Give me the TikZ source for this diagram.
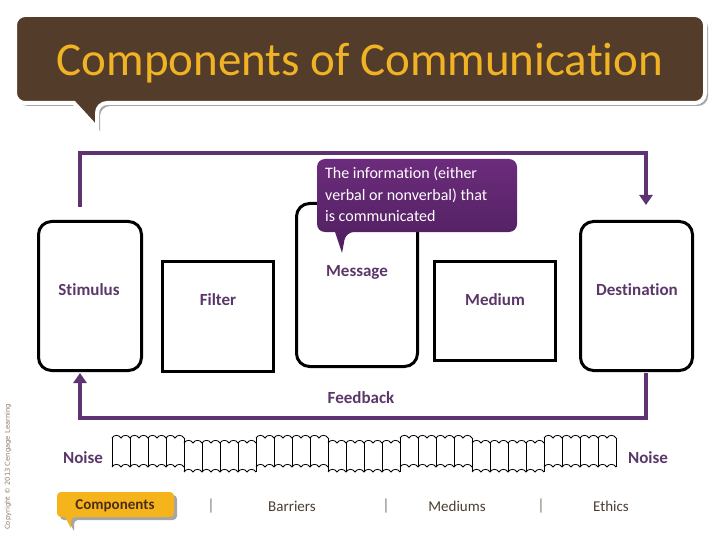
\documentclass[tikz,border=0pt]{standalone}
\usepackage{fontspec}
\setmainfont{Carlito}[Ligatures={NoCommon}]
\newfontfamily\cpyfont{DejaVu Sans}
\usetikzlibrary{arrows.meta,calc}
\definecolor{bannerbrown}{HTML}{533D2A}
\definecolor{titlegold}{HTML}{F0B323}
\definecolor{flowpurple}{HTML}{5F3372}
\definecolor{labpurple}{HTML}{5A3768}
\definecolor{calloutA}{HTML}{6C2C7C}
\definecolor{calloutB}{HTML}{4F1F5E}
\definecolor{compgold}{HTML}{F5B31C}
\definecolor{compbrown}{HTML}{4A2E18}
\definecolor{rowtext}{HTML}{4B3D30}
\definecolor{cpygray}{HTML}{8C7C68}
\tikzset{
  box/.style={draw=black, line width=3pt, inner sep=0pt},
  rbox/.style={box, rounded corners=13pt},
  lab/.style={text=labpurple, font=\fontsize{17}{20}\selectfont\bfseries},
  flow/.style={draw=flowpurple, line width=3.5pt, -{Triangle[width=13pt,length=10pt]}},
  noiseln/.style={draw=black, line width=0.8pt},
  rowlab/.style={text=rowtext, font=\fontsize{15}{18}\selectfont},
  sep/.style={text=rowtext!70, font=\fontsize{16}{18}\selectfont}
}
\begin{document}
\begin{tikzpicture}[x=1pt,y=-1pt]
\useasboundingbox (0,0) rectangle (720,540);
% title banner
\newcommand{\BannerShape}[1]{[rounded corners=10pt] ($(15,60)+#1$) -- ($(15,15)+#1$) -- ($(705,15)+#1$) -- ($(705,103)+#1$) -- ($(97,103)+#1$) [sharp corners] -- ($(97,128)+#1$) -- ($(74,103)+#1$) [rounded corners=10pt] -- ($(15,103)+#1$) -- cycle}
\fill[black!35] \BannerShape{(3,3)};
\filldraw[fill=bannerbrown, draw=white, line width=4pt] \BannerShape{(0,0)};
\node[text=titlegold, font=\fontsize{47}{50}\selectfont] (title) at (360,63) {Components of Communication};
% boxes
\node[rbox, minimum width=103pt, minimum height=149pt] (stim) at (90,296) {};
\node[box, minimum width=111pt, minimum height=110pt] (filter) at (218,316.5) {};
\node[rbox, minimum width=121pt, minimum height=163pt] (msg) at (357,285) {};
\node[box, minimum width=121pt, minimum height=99pt] (medium) at (495,311) {};
\node[rbox, minimum width=112pt, minimum height=149pt] (dest) at (636.5,296) {};
\node[lab] (stimlab) at (89,290) {Stimulus};
\node[lab] (filterlab) at (218,300) {Filter};
\node[lab] (msglab) at (357,272) {Message};
\node[lab] (mediumlab) at (495,300) {Medium};
\node[lab] (destlab) at (637,290) {Destination};
% callout
\shade[top color=calloutA, bottom color=calloutB] (342,253) -- (335,232) [rounded corners=8pt] -- (317,232) -- (317,159) -- (517,159) -- (517,232) -- (346,232) [sharp corners] -- cycle;
\node[anchor=north west, align=left, text=white, inner sep=0pt,
      font=\fontsize{16}{21.5}\selectfont] (calltext) at (325,167)
  {The information (either\\verbal or nonverbal) that\\is communicated};
% connectors
\draw[flow, shorten <=13pt, shorten >=15pt] ([xshift=-10pt]stim.north) -- ++(0,-67) -| ([xshift=9.5pt]dest.north);
\draw[flow, shorten <=1pt, shorten >=1pt] ([xshift=9.5pt]dest.south) -- ++(0,46) -| ([xshift=-10pt]stim.south);
\node[lab] (fblab) at (361,398) {Feedback};
% noise band
\foreach \g in {0,...,6} {
  \pgfmathsetmacro\xo{112+72*\g}
  \ifodd\g \def\tp{443}\else\def\tp{438}\fi
  \pgfmathsetmacro\bt{\tp+29}
  \draw[noiseln] (\xo,\tp) foreach \i in {1,...,8} { .. controls +(2,-3.5) and +(-2,-3.5) .. ++(9,0) };
  \draw[noiseln] (\xo,\bt) foreach \i in {1,...,8} { .. controls +(2,-3.5) and +(-2,-3.5) .. ++(9,0) };
  \foreach \k in {0,...,4} {
    \draw[noiseln] (\xo+18*\k,\tp) -- (\xo+18*\k,\bt);
  }
}
\node[lab] (noiseL) at (83,458) {Noise};
\node[lab] (noiseR) at (648,458) {Noise};
% bottom row
\newcommand{\CompShape}[1]{[rounded corners=4pt] ($(57,505)+#1$) -- ($(57,492)+#1$) -- ($(174,492)+#1$) -- ($(174,517)+#1$) -- ($(71,517)+#1$) [sharp corners] -- ($(71,528)+#1$) -- ($(65,517)+#1$) [rounded corners=4pt] -- ($(57,517)+#1$) -- cycle}
\fill[black!35] \CompShape{(3,3)};
\fill[compgold] \CompShape{(0,0)};
\node[text=compbrown, font=\fontsize{15}{18}\selectfont\bfseries] (comp) at (115,505.5) {Components};
\node[sep] (sep1) at (211,506) {|};
\node[rowlab] (barr) at (292,506) {Barriers};
\node[sep] (sep2) at (386,506) {|};
\node[rowlab] (medi) at (457,506) {Mediums};
\node[sep] (sep3) at (541,506) {|};
\node[rowlab] (eth) at (611,506) {Ethics};
% copyright
\node[rotate=90, text=cpygray, font=\cpyfont\fontsize{6.8}{8}\selectfont] (cpy) at (8,467) {Copyright © 2013 Cengage Learning};
\end{tikzpicture}
\end{document}
